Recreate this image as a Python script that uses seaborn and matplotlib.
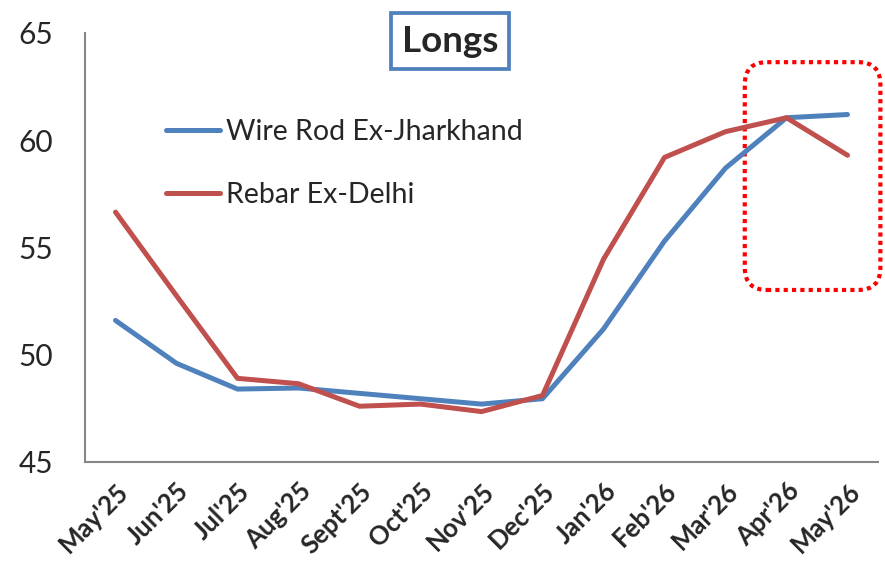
import numpy as np
import pandas as pd
import matplotlib
matplotlib.use("Agg")
import matplotlib.pyplot as plt
import seaborn as sns
from matplotlib.patches import FancyBboxPatch

# values
months = ["May'25", "Jun'25", "Jul'25", "Aug'25", "Sept'25", "Oct'25", "Nov'25",
          "Dec'25", "Jan'26", "Feb'26", "Mar'26", "Apr'26", "May'26"]
wire_rod = [51.6, 49.6, 48.4, 48.45, 48.2, 47.95, 47.7, 47.95, 51.2, 55.3, 58.7, 61.05, 61.2]
rebar = [56.65, 52.75, 48.9, 48.65, 47.6, 47.7, 47.35, 48.1, 54.45, 59.2, 60.4, 61.05, 59.3]
series_names = ["Wire Rod Ex-Jharkhand", "Rebar Ex-Delhi"]
series_colors = ["#4F81BD", "#C0504D"]
y_ticks = [45, 50, 55, 60, 65]

df = pd.DataFrame({
    "Month": months * 2,
    "Price": wire_rod + rebar,
    "Series": [series_names[0]] * len(months) + [series_names[1]] * len(months),
})

sns.set_style("white")
plt.rcParams['font.family'] = ['Lato', 'DejaVu Sans']

W, H = 885, 563
fig = plt.figure(figsize=(W / 100, H / 100), dpi=100)
ax = fig.add_axes([85 / W, 1 - 462 / H, 793 / W, 429 / H])

sns.lineplot(data=df, x="Month", y="Price", hue="Series", sort=False,
             palette=dict(zip(series_names, series_colors)),
             linewidth=3.6, solid_capstyle='round', solid_joinstyle='round', ax=ax)

ax.set_xlim(-0.5, len(months) - 0.5)
ax.set_ylim(45, 65)
ax.set_yticks(y_ticks)
ax.set_xlabel("")
ax.set_ylabel("")

# Excel style: labels at category centres, tick marks between categories
ax.set_xticks(np.arange(len(months)))
ax.set_xticklabels(months, rotation=45, ha='right', rotation_mode='anchor',
                   fontsize=18.5, fontweight='bold')
ax.set_xticks(np.arange(-0.5, len(months), 1), minor=True)
ax.tick_params(axis='x', which='major', length=0, pad=12)
ax.tick_params(axis='x', which='minor', length=7, width=1.5, color='#868686', direction='out')
ax.tick_params(axis='y', length=10, width=1.5, color='#868686', direction='out',
               labelsize=21.5, pad=13)

for side in ['top', 'right']:
    ax.spines[side].set_visible(False)
for side in ['left', 'bottom']:
    ax.spines[side].set_color('#868686')
    ax.spines[side].set_linewidth(1.5)

handles, labels = ax.get_legend_handles_labels()
leg = ax.legend(handles, labels, frameon=False, loc='upper left',
                bbox_to_anchor=(0.07, 0.86), fontsize=20.5, handlelength=1.9,
                handletextpad=0.2, labelspacing=1.3)
for h in leg.legend_handles:
    h.set_linewidth(3.6)
    h.set_solid_capstyle('round')

# title box
fig.text(450 / W, 1 - 41 / H, "Longs", ha='center', va='center', fontsize=26.5,
         fontweight='bold',
         bbox=dict(boxstyle='square,pad=0.3', fc='white', ec='#4F81BD', lw=2.7))

# dotted highlight round the last two months
box = FancyBboxPatch((0.832, 0.401), 0.171, 0.531,
                     boxstyle="round,pad=0,rounding_size=0.028",
                     mutation_aspect=793 / 429, transform=ax.transAxes,
                     fill=False, ec='#FF0000', lw=3, linestyle=(0, (1, 1)),
                     clip_on=False)
ax.add_patch(box)

fig.savefig("out.png", dpi=100)
